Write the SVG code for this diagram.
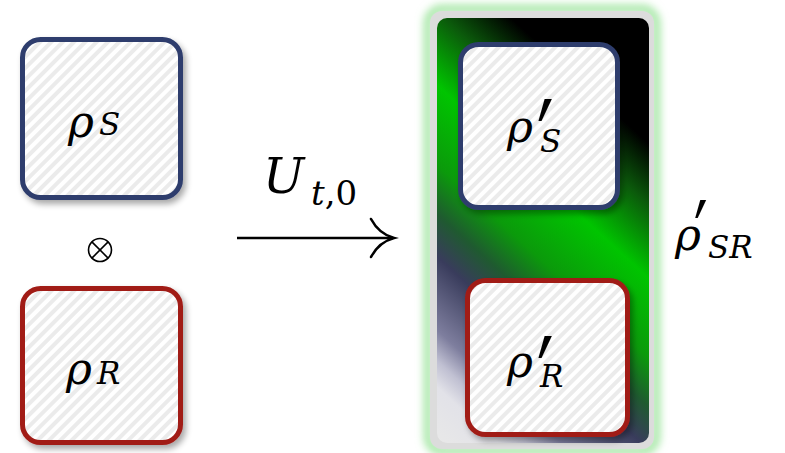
<svg xmlns="http://www.w3.org/2000/svg" width="785" height="453" viewBox="0 0 785 453">
<defs>
<pattern id="hatch" patternUnits="userSpaceOnUse" width="8" height="8" patternTransform="rotate(45)">
<rect width="8" height="8" fill="#ffffff"/>
<rect width="4" height="8" fill="#ebebeb"/>
</pattern>
<filter id="shadow" x="-20%" y="-20%" width="150%" height="150%">
<feGaussianBlur in="SourceAlpha" stdDeviation="3"/>
<feOffset dx="3" dy="4" result="b"/>
<feComponentTransfer><feFuncA type="linear" slope="0.35"/></feComponentTransfer>
<feMerge><feMergeNode/><feMergeNode in="SourceGraphic"/></feMerge>
</filter>
<filter id="glow" x="-20%" y="-20%" width="140%" height="140%">
<feGaussianBlur stdDeviation="4"/>
</filter>
<linearGradient id="grad" x1="440" y1="443" x2="745" y2="109" gradientUnits="userSpaceOnUse">
<stop offset="0" stop-color="#e8e8e8"/>
<stop offset="0.087" stop-color="#e2e2e8"/>
<stop offset="0.13" stop-color="#c0c0d2"/>
<stop offset="0.18" stop-color="#7e7e9e"/>
<stop offset="0.30" stop-color="#393c5c"/>
<stop offset="0.37" stop-color="#1f5a30"/>
<stop offset="0.45" stop-color="#0b9a0b"/>
<stop offset="0.58" stop-color="#00c400"/>
<stop offset="0.70" stop-color="#0b5a0b"/>
<stop offset="0.80" stop-color="#000000"/>
<stop offset="1" stop-color="#000000"/>
</linearGradient>
<marker id="arrow" markerWidth="30" markerHeight="44" refX="24" refY="22" orient="auto" markerUnits="userSpaceOnUse">
<path d="M2,3 Q10,18 25,22 Q10,26 2,41" fill="none" stroke="#000" stroke-width="2.6" stroke-linecap="round"/>
</marker>
<style>
.m{font-family:"DejaVu Serif","Liberation Serif",serif;font-style:italic;fill:#000}
.r{font-family:"DejaVu Serif","Liberation Serif",serif;font-style:normal;fill:#000}
.p{font-family:"DejaVu Sans",sans-serif;font-style:normal;fill:#000}
.bs{fill:url(#hatch);stroke:#2f3e6d;stroke-width:5}
.br{fill:url(#hatch);stroke:#a11d18;stroke-width:5}
</style>
</defs>
<g id="joint">
<rect x="428" y="9" width="228" height="442" rx="14" fill="none" stroke="#9fe59f" stroke-width="8" filter="url(#glow)"/>
<rect x="430" y="11" width="224" height="438" rx="12" fill="#dcdcdc"/>
<rect x="437" y="18" width="212" height="425" rx="10" fill="url(#grad)"/>
<text class="m" x="675" y="250" font-size="44">ρ</text>
<text class="p" transform="translate(694,273) scale(0.6,1)" font-size="100">′</text>
<text class="m" x="708" y="258" font-size="31">SR</text>
</g>
<g id="rhoS">
<rect class="bs" x="22.5" y="39.5" width="158" height="158" rx="18" filter="url(#shadow)"/>
<text class="m" x="68" y="137" font-size="44">ρ</text>
<text class="m" x="99" y="135" font-size="31">S</text>
</g>
<g id="otimes">
<circle cx="100" cy="250" r="11.5" fill="none" stroke="#000" stroke-width="1.6"/>
<line x1="91.9" y1="241.9" x2="108.1" y2="258.1" stroke="#000" stroke-width="1.6"/>
<line x1="108.1" y1="241.9" x2="91.9" y2="258.1" stroke="#000" stroke-width="1.6"/>
</g>
<g id="rhoR">
<rect class="br" x="22.5" y="288.5" width="158" height="154" rx="18" filter="url(#shadow)"/>
<text class="m" x="66" y="384" font-size="44">ρ</text>
<text class="m" x="97" y="384" font-size="31">R</text>
</g>
<g id="rhoSp">
<rect class="bs" x="460.5" y="44.5" width="157" height="163" rx="18" filter="url(#shadow)"/>
<text class="m" x="507" y="142" font-size="44">ρ</text>
<text class="p" transform="translate(537,187) scale(0.6,1)" font-size="122">′</text>
<text class="m" x="540" y="152" font-size="31">S</text>
</g>
<g id="rhoRp">
<rect class="br" x="467.5" y="280.5" width="160" height="154" rx="18" filter="url(#shadow)"/>
<text class="m" x="507" y="377" font-size="44">ρ</text>
<text class="p" transform="translate(537,424) scale(0.6,1)" font-size="122">′</text>
<text class="m" x="540" y="387" font-size="31">R</text>
</g>
<g id="connectors">
<line x1="237" y1="238" x2="393" y2="238" stroke="#000" stroke-width="2.5" marker-end="url(#arrow)"/>
<text class="m" x="263" y="193" font-size="49">U</text>
<text class="m" x="311" y="205" font-size="34">t<tspan class="r">,0</tspan></text>
</g>
</svg>
